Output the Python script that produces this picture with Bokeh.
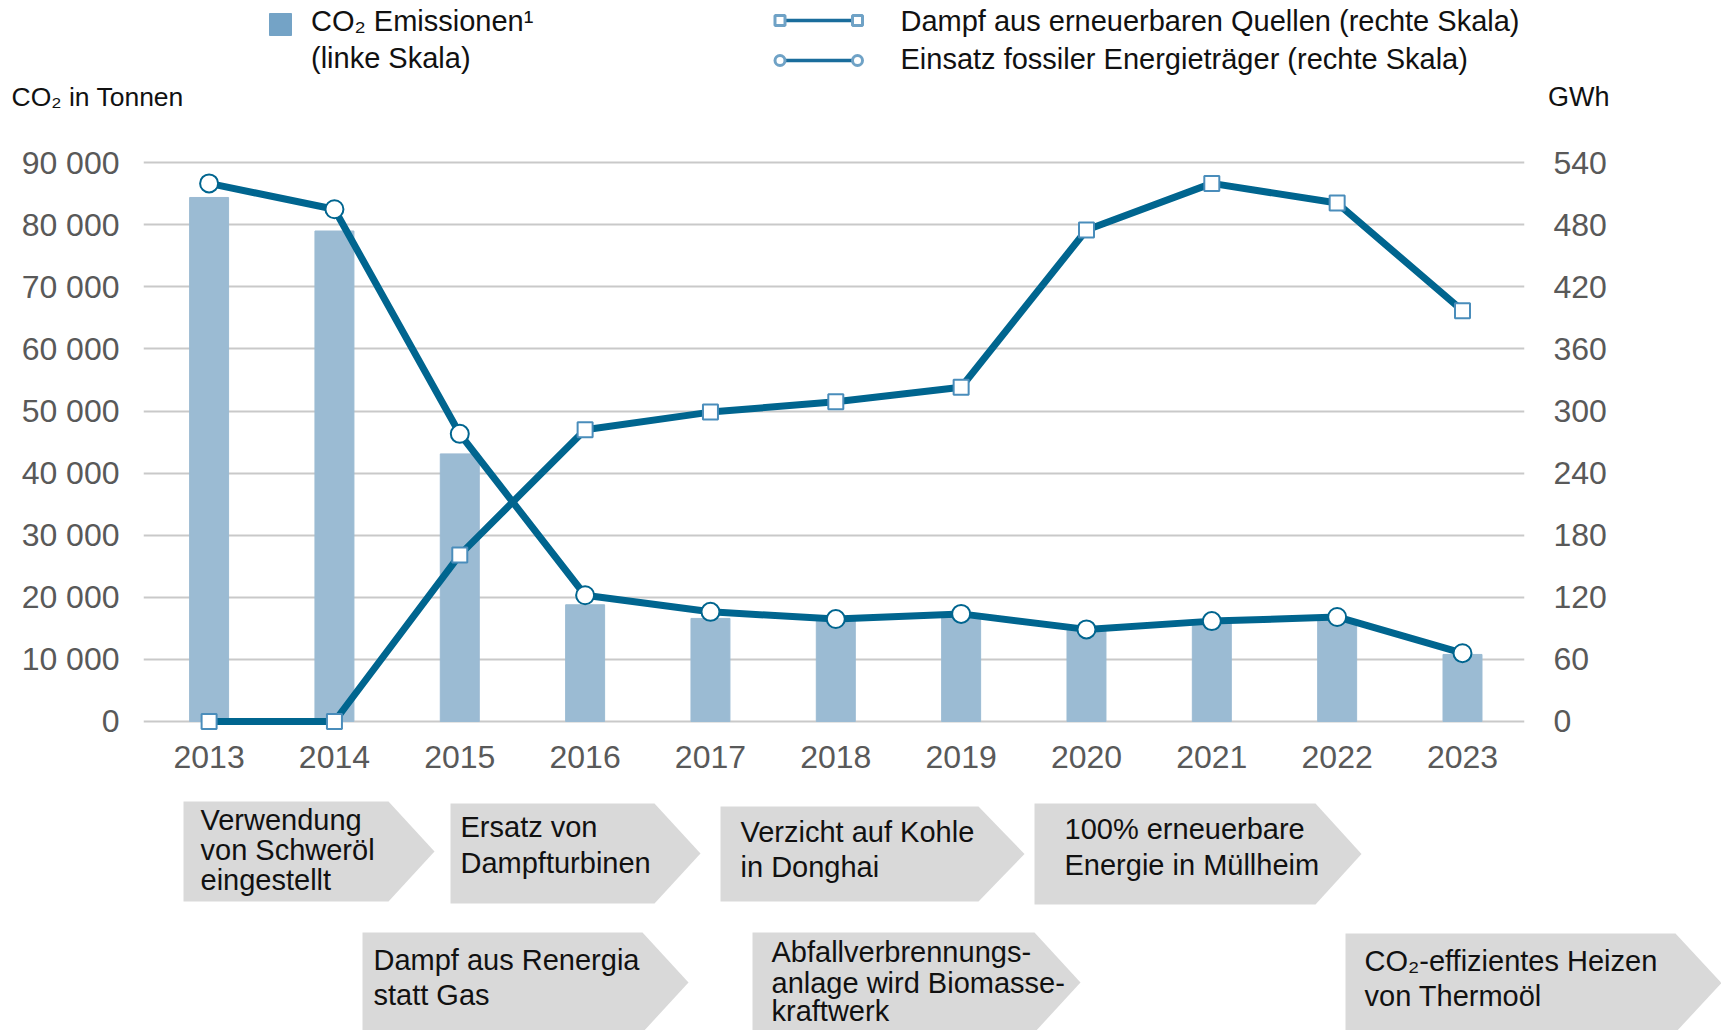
from bokeh.plotting import figure
from bokeh.models import Range1d, LinearAxis, FixedTicker
from bokeh.layouts import column
from bokeh.core.properties import value
from bokeh.embed import file_html
from bokeh.resources import INLINE

# ---------------- data ----------------
years = [2013, 2014, 2015, 2016, 2017, 2018, 2019, 2020, 2021, 2022, 2023]
co2_tonnen = [84400, 79000, 43100, 18800, 16600, 16300, 17000, 14700, 16000, 16400, 10800]
dampf_erneuerbar_gwh = [0, 0, 161, 282, 299, 309, 323, 475, 520, 501, 397]
fossil_gwh = [520, 495, 278, 122, 106, 99, 104, 89, 97, 101, 66]

left_ticks = [0, 10000, 20000, 30000, 40000, 50000, 60000, 70000, 80000, 90000]
left_tick_labels = ["0", "10 000", "20 000", "30 000", "40 000", "50 000",
                    "60 000", "70 000", "80 000", "90 000"]
right_ticks = [0, 60, 120, 180, 240, 300, 360, 420, 480, 540]

legend_bar_lines = ["CO\u2082 Emissionen\u00b9", "(linke Skala)"]
legend_renew = "Dampf aus erneuerbaren Quellen (rechte Skala)"
legend_fossil = "Einsatz fossiler Energieträger (rechte Skala)"
left_title = "CO\u2082 in Tonnen"
right_title = "GWh"

milestones = [
    ["Verwendung", "von Schweröl", "eingestellt"],
    ["Ersatz von", "Dampfturbinen"],
    ["Verzicht auf Kohle", "in Donghai"],
    ["100% erneuerbare", "Energie in Müllheim"],
    ["Dampf aus Renergia", "statt Gas"],
    ["Abfallverbrennungs-", "anlage wird Biomasse-", "kraftwerk"],
    ["CO\u2082-effizientes Heizen", "von Thermoöl"],
]

# ---------------- styles / layout ----------------
FONT = "Liberation Sans"
W = 1721
BAR_C = "#9bbbd3"
LEG_BAR_C = "#74a3c6"
LINE_C = "#00658f"
SQ_EDGE = "#4a8dbb"
LEG_MARK_C = "#6fa2c6"
LEG_LINE_C = "#1a6d9c"
GRID_C = "#c9c9c9"
TICK_C = "#595959"
TXT_C = "#111111"
BOX_C = "#d9d9d9"

# box geometry in page pixels: left, tip, top, bottom
box_geom = [
    (183, 434, 801, 901),
    (450, 700, 803, 903),
    (720, 1024, 806, 901),
    (1034, 1361, 803, 904),
    (362, 688, 932, 1032),
    (752, 1080, 932, 1032),
    (1345, 1721, 933, 1032),
]
# text left edge and line positions (page pixels)
box_text_pos = [
    (200, [819.5, 849, 879]),
    (460, [826.5, 862.5]),
    (740, [831.5, 866.5]),
    (1064, [828.5, 864]),
    (373, [959.5, 994]),
    (771, [951.5, 982, 1010]),
    (1364, [960.5, 995]),
]
TIP = 46

TOP_H, CHART_H = 138, 655
BOT_H = 1030 - TOP_H - CHART_H

def blank(height, y0, y1):
    f = figure(width=W, height=height, x_range=Range1d(0, W),
               y_range=Range1d(y1, y0), x_axis_type=None, y_axis_type=None,
               output_backend="svg", toolbar_location=None,
               min_border=0, min_border_left=0, min_border_right=0,
               min_border_top=0, min_border_bottom=0,
               outline_line_color=None, frame_align=False)
    f.grid.visible = False
    return f

# ---------------- top: legend + axis titles ----------------
top = blank(TOP_H, 0, TOP_H)
top.rect(x=[280], y=[24], width=22, height=22, color=LEG_BAR_C)
top.text(x=[310.5, 310.5], y=[20, 57], text=legend_bar_lines,
         text_font=value(FONT), text_font_size="29px", text_color=TXT_C,
         text_baseline="alphabetic")
for yy, mk in [(20, "square"), (60, "circle")]:
    top.line(x=[779.5, 857], y=[yy, yy], line_color=LEG_LINE_C, line_width=3.5)
    top.scatter(x=[779.5, 857], y=[yy, yy], marker=mk, size=10,
                fill_color="white", line_color=LEG_MARK_C, line_width=3)
top.text(x=[900, 900], y=[20, 58], text=[legend_renew, legend_fossil],
         text_font=value(FONT), text_font_size="29px", text_color=TXT_C,
         text_baseline="alphabetic")
top.text(x=[11], y=[96], text=[left_title], text_font=value(FONT),
         text_font_size="26.5px", text_color=TXT_C, text_baseline="alphabetic")
top.text(x=[1547.5], y=[96], text=[right_title], text_font=value(FONT),
         text_font_size="27px", text_color=TXT_C, text_baseline="alphabetic")

# ---------------- chart ----------------
p = figure(width=W, height=CHART_H,
           x_range=Range1d(2012.4766, 2023.4947),
           y_range=Range1d(-1933, 91000),
           min_border_left=143, min_border_right=W - 1524,
           min_border_top=18, min_border_bottom=60,
           output_backend="svg", toolbar_location=None,
           outline_line_color=None, frame_align=False)
p.extra_y_ranges = {"gwh": Range1d(-11.6, 546)}

p.vbar(x=years, top=co2_tonnen, width=0.311, bottom=0, color=BAR_C)
p.line(x=years, y=dampf_erneuerbar_gwh, y_range_name="gwh",
       line_color=LINE_C, line_width=7, line_join="round")
p.line(x=years, y=fossil_gwh, y_range_name="gwh",
       line_color=LINE_C, line_width=7, line_join="round")
p.scatter(x=years, y=dampf_erneuerbar_gwh, y_range_name="gwh", marker="square",
          size=15, fill_color="white", line_color=SQ_EDGE, line_width=2)
p.scatter(x=years, y=fossil_gwh, y_range_name="gwh", marker="circle",
          size=18, fill_color="white", line_color=LINE_C, line_width=2)

p.xgrid.visible = False
p.ygrid.grid_line_color = GRID_C
p.ygrid.grid_line_width = 2
p.yaxis.ticker = FixedTicker(ticks=left_ticks)
p.yaxis.major_label_overrides = dict(zip(left_ticks, left_tick_labels))

p.xaxis.ticker = FixedTicker(ticks=years)

raxis = LinearAxis(y_range_name="gwh", ticker=FixedTicker(ticks=right_ticks))
p.add_layout(raxis, "right")

for ax in [p.xaxis[0], p.yaxis[0], raxis]:
    ax.axis_line_color = None
    ax.major_tick_line_color = None
    ax.minor_tick_line_color = None
    ax.major_tick_out = 0
    ax.major_tick_in = 0
    ax.major_label_text_font = FONT
    ax.major_label_text_font_size = "32px"
    ax.major_label_text_color = TICK_C
p.xaxis.major_label_standoff = 12
p.yaxis[0].major_label_standoff = 24
raxis.major_label_standoff = 29

# ---------------- bottom: milestone arrows ----------------
y_bot0 = TOP_H + CHART_H
bot = blank(BOT_H, y_bot0, y_bot0 + BOT_H)
xs, ys = [], []
for (x0, x2, y0, y1) in box_geom:
    x1 = x2 - TIP
    ym = (y0 + y1) / 2
    xs.append([x0, x1, x2, x1, x0])
    ys.append([y0, y0, ym, y1, y1])
bot.patches(xs=xs, ys=ys, fill_color=BOX_C, line_color=None)
tx, ty, tt = [], [], []
for lines, (lx, bases) in zip(milestones, box_text_pos):
    for s, b in zip(lines, bases):
        tx.append(lx); ty.append(b); tt.append(s)
bot.text(x=tx, y=ty, text=tt, text_font=value(FONT), text_font_size="29px",
         text_color=TXT_C, text_baseline="alphabetic")

layout = column(top, p, bot, spacing=0)
open("out.html", "w").write(file_html(layout, INLINE))
